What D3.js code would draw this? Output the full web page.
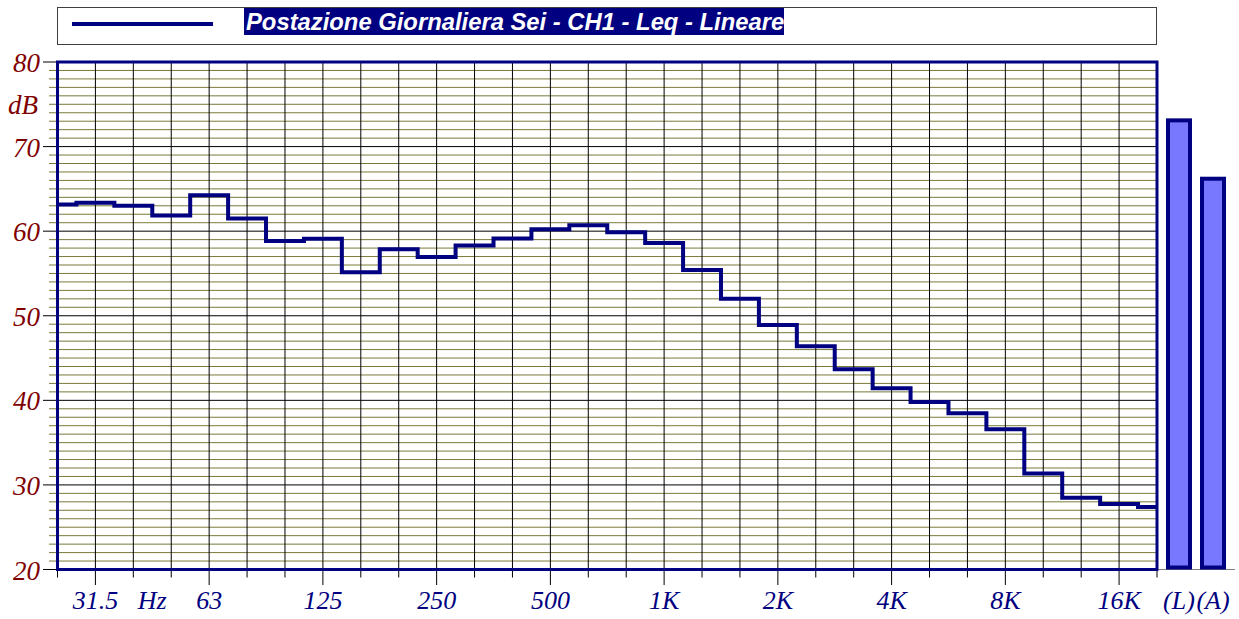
<!DOCTYPE html>
<html>
<head>
<meta charset="utf-8">
<script src="https://cdn.jsdelivr.net/npm/d3@7"></script>
<style>
  html, body { margin: 0; padding: 0; background: #fff; }
  svg { display: block; }
</style>
</head>
<body>
<svg id="chart" width="1239" height="619"></svg>
<script>
// ---- data ----
const bands = ["25","31.5","40","50","63","80","100","125","160","200","250","315","400","500","630","800",
               "1K","1.25K","1.6K","2K","2.5K","3.15K","4K","5K","6.3K","8K","10K","12.5K","16K","20K"];
const leqValues = [63.15,63.35,63.0,61.85,64.26,61.5,58.85,59.1,55.15,57.87,56.95,58.3,59.12,60.24,60.7,59.88,
                   58.6,55.42,52.0,48.9,46.4,43.67,41.42,39.8,38.46,36.57,31.36,28.47,27.73,27.4];
const totalLabels = ["(L)","(A)"];
const totalValues = [73.1, 66.2];
const xTickLabels = [
  {i: 1, t: "31.5"}, {i: 2.5, t: "Hz"}, {i: 4, t: "63"}, {i: 7, t: "125"}, {i: 10, t: "250"},
  {i: 13, t: "500"}, {i: 16, t: "1K"}, {i: 19, t: "2K"}, {i: 22, t: "4K"}, {i: 25, t: "8K"}, {i: 28, t: "16K"}
];
const yTickLabels = [20, 30, 40, 50, 60, 70, 80];
const yUnit = "dB";
const legendText = "Postazione Giornaliera Sei - CH1 - Leq - Lineare";

// ---- layout ----
const svg = d3.select("#chart");
const L = 57.5, R = 1157, T = 62, B = 569.5;
const x = d3.scaleLinear().domain([0, bands.length - 1]).range([L, R]);
const y = d3.scaleLinear().domain([20, 80]).range([B, T]);
const xb = d3.scaleBand().domain(totalLabels).range([1162, 1230]);

const navy = "#000080";
const serif = "'Liberation Serif','Times New Roman',serif";

// legend
const lg = svg.append("g");
lg.append("rect").attr("x", 57.5).attr("y", 7.5).attr("width", 1099).attr("height", 37)
  .attr("fill", "#fff").attr("stroke", "#404040").attr("stroke-width", 1);
lg.append("line").attr("x1", 72).attr("x2", 213).attr("y1", 24).attr("y2", 24)
  .attr("stroke", navy).attr("stroke-width", 4);
lg.append("rect").attr("x", 244).attr("y", 8).attr("width", 540).attr("height", 27).attr("fill", navy);
lg.append("text").attr("x", 246).attr("y", 29.5)
  .attr("font-family", "'Liberation Sans',Arial,sans-serif").attr("font-weight", "bold")
  .attr("font-style", "italic").attr("font-size", "23.8px").attr("fill", "#fff")
  .text(legendText);

// horizontal grid (minor + major) with left ticks
const dbs = d3.range(20, 81);
const grid = svg.append("g");
grid.selectAll("line.h").data(dbs).join("line")
  .attr("x1", d => d % 10 === 0 ? 43 : 49).attr("x2", R)
  .attr("y1", d => y(d)).attr("y2", d => y(d))
  .attr("stroke", d => d % 10 === 0 ? "#000" : "#7a7a3a")
  .attr("stroke-width", 1);

// vertical grid + bottom ticks
const idx = d3.range(0, bands.length);
const longIdx = new Set(xTickLabels.filter(d => Number.isInteger(d.i)).map(d => d.i));
grid.selectAll("line.v").data(idx).join("line")
  .attr("x1", d => x(d)).attr("x2", d => x(d))
  .attr("y1", T).attr("y2", d => longIdx.has(d) ? 585 : 577.5)
  .attr("stroke", "#000").attr("stroke-width", 1);

// baseline under total bars
svg.append("line").attr("x1", R).attr("x2", 1235).attr("y1", B).attr("y2", B)
  .attr("stroke", "#808080").attr("stroke-width", 1);

// step line
const line = d3.line().x((d, i) => x(i)).y(d => y(d)).curve(d3.curveStep);
svg.append("path").datum(leqValues).attr("d", line)
  .attr("fill", "none").attr("stroke", navy).attr("stroke-width", 4).attr("stroke-linejoin", "miter");

// plot frame
svg.append("rect").attr("x", L).attr("y", T).attr("width", R - L).attr("height", B - T)
  .attr("fill", "none").attr("stroke", navy).attr("stroke-width", 3);

// total bars
svg.selectAll("rect.tot").data(totalValues).join("rect")
  .attr("x", (d, i) => xb(totalLabels[i]) + xb.bandwidth() / 2 - 11)
  .attr("width", 22)
  .attr("y", d => y(d)).attr("height", d => B - 2 - y(d))
  .attr("fill", "#7878ff").attr("stroke", navy).attr("stroke-width", 4);

// y labels
svg.selectAll("text.yl").data(yTickLabels).join("text")
  .attr("x", 40).attr("y", d => y(d) + 10).attr("text-anchor", "end")
  .attr("font-family", serif).attr("font-style", "italic").attr("font-size", "27px")
  .attr("fill", "#800000").text(d => d);
svg.append("text").attr("x", 38).attr("y", y(75) + 10).attr("text-anchor", "end")
  .attr("font-family", serif).attr("font-style", "italic").attr("font-size", "27px")
  .attr("fill", "#800000").text(yUnit);

// x labels
svg.selectAll("text.xl").data(xTickLabels).join("text")
  .attr("x", d => x(d.i)).attr("y", 609).attr("text-anchor", "middle")
  .attr("font-family", serif).attr("font-style", "italic").attr("font-size", "26px")
  .attr("fill", navy).text(d => d.t);
svg.selectAll("text.tl").data(totalLabels).join("text")
  .attr("x", d => xb(d) + xb.bandwidth() / 2).attr("y", 609).attr("text-anchor", "middle")
  .attr("font-family", serif).attr("font-style", "italic").attr("font-size", "26px")
  .attr("fill", navy).text(d => d);
</script>
</body>
</html>
